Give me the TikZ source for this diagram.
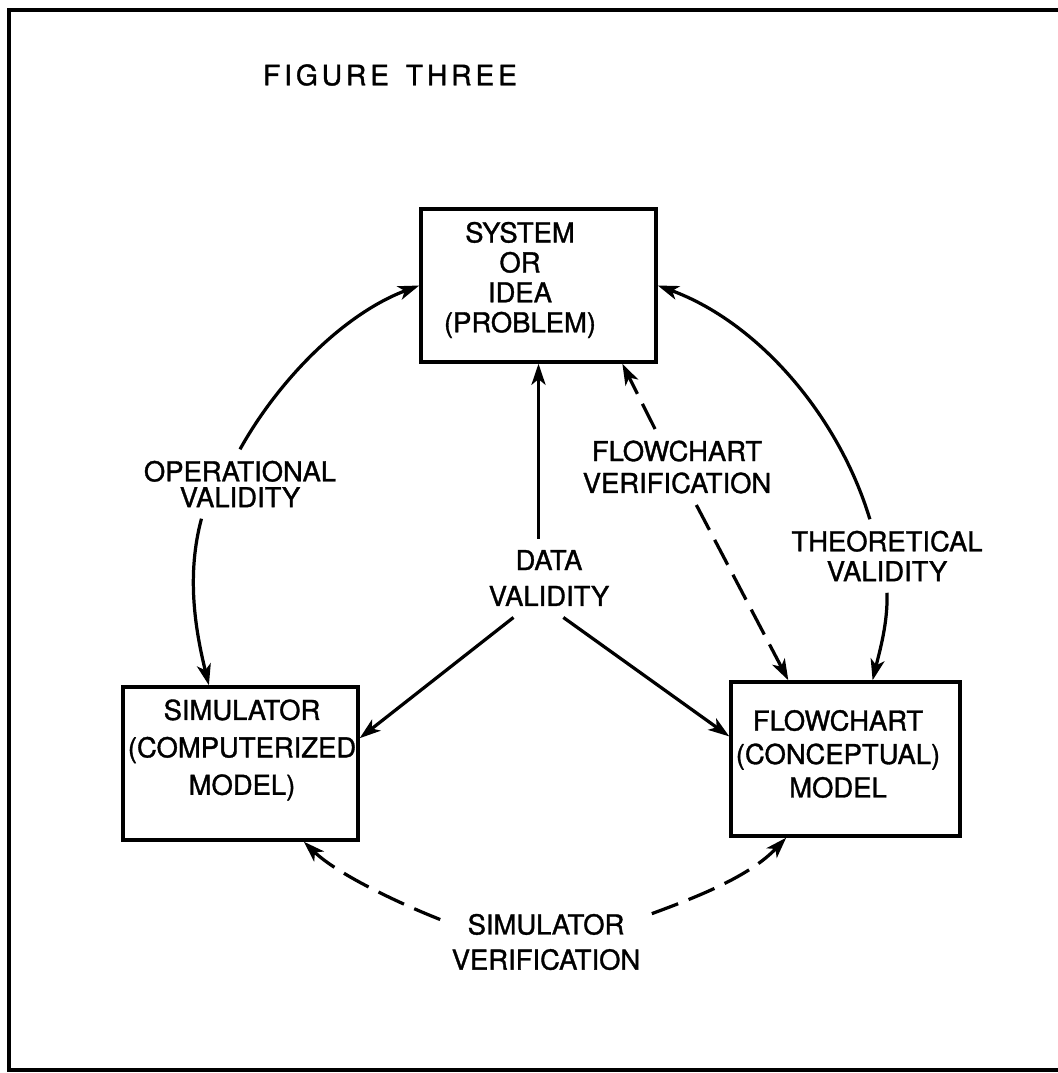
\documentclass[tikz,border=0pt]{standalone}
\usepackage{fontspec}
\setmainfont{TeX Gyre Heros}[FakeBold=1.2]
\newfontfamily\titlefont{TeX Gyre Heros}[LetterSpace=14, FakeBold=1.2]
\usepackage{tikz}
\usetikzlibrary{arrows.meta}
\tikzset{
  dia_box/.style = {rectangle, draw=black, line width=2.4pt, inner sep=0pt},
  dia_txt/.style = {align=center, inner sep=0pt,
    font=\fontsize{19.5}{#1}\selectfont},% text inside a box
  dia_lbl/.style = {dia_txt=#1, inner sep=8pt},% label on a connector
  dia_arr/.style = {->, line width=2.3pt},
  dia_dash/.style = {dia_arr, dash pattern=on 20pt off 8pt}
}

\begin{document}
\begin{tikzpicture}[x=0.025cm, y=-0.025cm,
  >={Stealth[length=15pt, width=10pt, inset=4pt]}]
\useasboundingbox (0,0) rectangle (1058,1073);
% frame, open on the right
\draw[line width=3.2pt] (1058,10) -- (9,10) -- (9,1070) -- (1058,1070);
\node (title) at (390,75) {\titlefont\fontsize{20}{22}\selectfont FIGURE\hspace{0.6em}THREE};

% the three boxes
\node[dia_box, minimum width=5.875cm, minimum height=3.825cm] (sys) at (538.5,285.5) {};
\node[dia_box, minimum width=5.875cm, minimum height=3.825cm] (sim) at (240.5,763.5) {};
\node[dia_box, minimum width=5.725cm, minimum height=3.85cm] (flow) at (845.5,759) {};
\node[dia_txt=21.3pt] (sys_t) at (520,280) {SYSTEM\\OR\\IDEA\\(PROBLEM)};
\node[dia_txt=26.6pt] (sim_t) at (242,750) {SIMULATOR\\(COMPUTERIZED\\MODEL)};
\node[dia_txt=23.8pt] (flow_t) at (838,754) {FLOWCHART\\(CONCEPTUAL)\\MODEL};

% labels
\node[dia_lbl=18.4pt] (opval) at (240,484) {OPERATIONAL\\VALIDITY};
\node[dia_lbl=25.5pt] (datav) at (549,578) {DATA\\VALIDITY};
\node[dia_lbl=22.7pt] (fcv) at (677,467) {FLOWCHART\\VERIFICATION};
\node[dia_lbl=21.3pt] (theov) at (887,556) {THEORETICAL\\VALIDITY};
\node[dia_lbl=25pt] (simv) at (546,942) {SIMULATOR\\VERIFICATION};

% operational validity
\draw[dia_arr] (opval.north) .. controls +(39,-70) and +(-75,28) .. (sys.west);
\draw[dia_arr] (opval.222) .. controls +(-15,56) and +(-14,-57) .. (sim.112);
% theoretical validity
\draw[dia_arr] (theov.115) .. controls +(-31,-103) and +(101,37) .. (sys.east);
\draw[dia_arr] (theov.south) .. controls +(1,30) and +(7,-29) .. (flow.71);
% simulator verification
\draw[dia_dash] (simv.168) .. controls +(-43,-17) and +(33,32) .. (sim.309);
\draw[dia_dash] (simv.15) .. controls +(49,-18) and +(-36,38) .. (flow.233);
% flowchart verification
\draw[dia_dash] (fcv.120) -- (sys.317);
\draw[dia_dash] (fcv.297) -- (flow.126);
% data validity
\draw[dia_arr] (datav.north -| sys.south) -- (sys.south);
\draw[dia_arr] (datav.228) -- (sim.12);
\draw[dia_arr] (datav.290) -- (flow.169);
\end{tikzpicture}
\end{document}
